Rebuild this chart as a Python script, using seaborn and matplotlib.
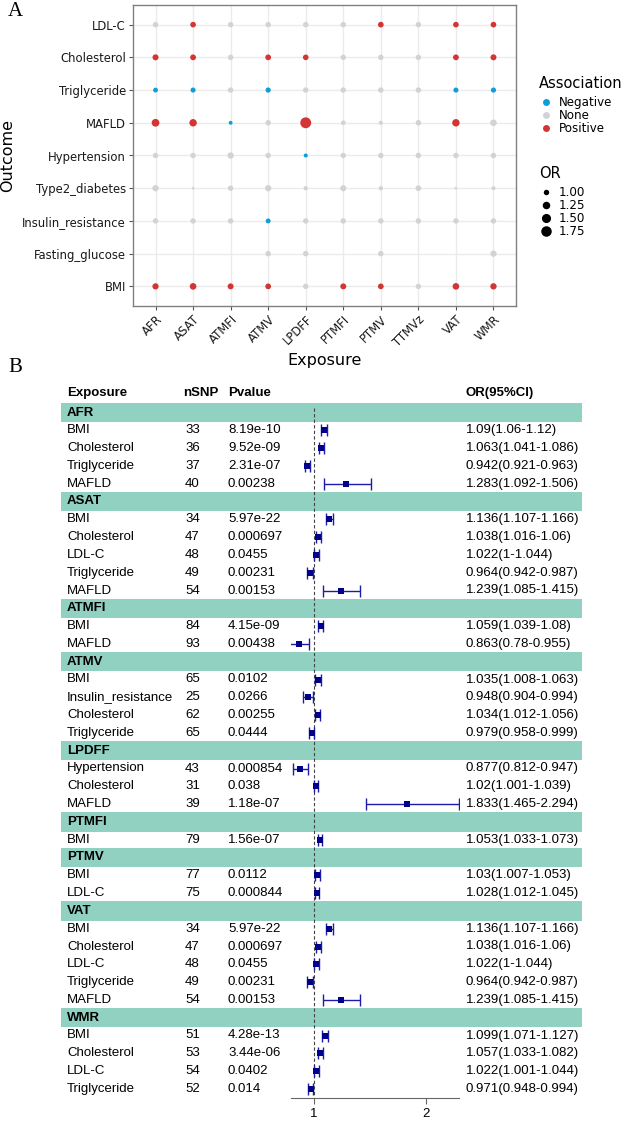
import matplotlib
matplotlib.use("Agg")
import matplotlib.pyplot as plt
import matplotlib.transforms as mtransforms
from matplotlib.lines import Line2D
from matplotlib.patches import Rectangle
import pandas as pd
import seaborn as sns

# ---------------- panel A data ----------------
exposures = ["AFR", "ASAT", "ATMFI", "ATMV", "LPDFF", "PTMFI", "PTMV", "TTMVz", "VAT", "WMR"]
# outcomes listed bottom -> top
outcomes = ["BMI", "Fasting_glucose", "Insulin_resistance", "Type2_diabetes",
            "Hypertension", "MAFLD", "Triglyceride", "Cholesterol", "LDL-C"]

# OR per exposure for each outcome (None = not tested)
or_bmi = [1.09, 1.136, 1.059, 1.035, 1.0, 1.053, 1.03, 1.0, 1.136, 1.099]
or_fasting = [None, None, None, 1.0, 1.0, None, 1.0, None, None, 1.1]
or_insulin = [1.0, 1.0, 1.0, 0.948, 1.0, 1.0, 1.0, 1.0, 1.0, 1.0]
or_t2d = [1.1, 0.79, 1.0, 1.1, 0.9, 1.08, 0.9, 1.03, 0.79, 0.88]
or_hyper = [1.0, 1.0, 1.1, 1.0, 0.877, 1.0, 1.0, 1.0, 1.0, 1.0]
or_mafld = [1.283, 1.239, 0.863, 1.0, 1.833, 0.93, 0.88, 1.0, 1.239, 1.12]
or_tg = [0.942, 0.964, 1.0, 0.979, 1.0, 1.0, 1.0, 1.0, 0.964, 0.971]
or_chol = [1.063, 1.038, 1.0, 1.034, 1.02, 1.0, 1.0, 1.0, 1.038, 1.057]
or_ldl = [1.0, 1.022, 1.0, 1.0, 1.0, 1.0, 1.028, 1.0, 1.022, 1.022]

# association codes: P positive, N negative, - none
as_bmi = "PPPP-PP-PP"
as_fasting = "----------"
as_insulin = "---N------"
as_t2d = "----------"
as_hyper = "----N-----"
as_mafld = "PPN-P---P-"
as_tg = "NN-N----NN"
as_chol = "PP-PP---PP"
as_ldl = "-P----P-PP"

or_rows = [or_bmi, or_fasting, or_insulin, or_t2d, or_hyper, or_mafld, or_tg, or_chol, or_ldl]
as_rows = [as_bmi, as_fasting, as_insulin, as_t2d, as_hyper, as_mafld, as_tg, as_chol, as_ldl]
code_names = {"P": "Positive", "N": "Negative", "-": "None"}

recs = []
for yi, (ors, codes) in enumerate(zip(or_rows, as_rows)):
    for xi, (v, c) in enumerate(zip(ors, codes)):
        if v is None:
            continue
        recs.append({"x": xi, "y": yi, "OR": v, "Association": code_names[c]})
dot_df = pd.DataFrame(recs)

assoc_colors = {"Negative": "#0E9FD8", "None": "#D3D3D3", "Positive": "#D33535"}
size_range = (2.0, 62.0)
size_norm = (0.76, 1.84)

# ---------------- panel B data ----------------
fp_exposure = (["AFR"] * 4 + ["ASAT"] * 5 + ["ATMFI"] * 2 + ["ATMV"] * 4 + ["LPDFF"] * 3
               + ["PTMFI"] * 1 + ["PTMV"] * 2 + ["VAT"] * 5 + ["WMR"] * 4)
fp_outcome = ["BMI", "Cholesterol", "Triglyceride", "MAFLD",
              "BMI", "Cholesterol", "LDL-C", "Triglyceride", "MAFLD",
              "BMI", "MAFLD",
              "BMI", "Insulin_resistance", "Cholesterol", "Triglyceride",
              "Hypertension", "Cholesterol", "MAFLD",
              "BMI",
              "BMI", "LDL-C",
              "BMI", "Cholesterol", "LDL-C", "Triglyceride", "MAFLD",
              "BMI", "Cholesterol", "LDL-C", "Triglyceride"]
fp_nsnp = [33, 36, 37, 40, 34, 47, 48, 49, 54, 84, 93, 65, 25, 62, 65, 43, 31, 39,
           79, 77, 75, 34, 47, 48, 49, 54, 51, 53, 54, 52]
fp_pval = [8.19e-10, 9.52e-09, 2.31e-07, 0.00238,
           5.97e-22, 0.000697, 0.0455, 0.00231, 0.00153,
           4.15e-09, 0.00438,
           0.0102, 0.0266, 0.00255, 0.0444,
           0.000854, 0.038, 1.18e-07,
           1.56e-07,
           0.0112, 0.000844,
           5.97e-22, 0.000697, 0.0455, 0.00231, 0.00153,
           4.28e-13, 3.44e-06, 0.0402, 0.014]
fp_or = [1.09, 1.063, 0.942, 1.283,
         1.136, 1.038, 1.022, 0.964, 1.239,
         1.059, 0.863,
         1.035, 0.948, 1.034, 0.979,
         0.877, 1.02, 1.833,
         1.053,
         1.03, 1.028,
         1.136, 1.038, 1.022, 0.964, 1.239,
         1.099, 1.057, 1.022, 0.971]
fp_lo = [1.06, 1.041, 0.921, 1.092,
         1.107, 1.016, 1.0, 0.942, 1.085,
         1.039, 0.78,
         1.008, 0.904, 1.012, 0.958,
         0.812, 1.001, 1.465,
         1.033,
         1.007, 1.012,
         1.107, 1.016, 1.0, 0.942, 1.085,
         1.071, 1.033, 1.001, 0.948]
fp_hi = [1.12, 1.086, 0.963, 1.506,
         1.166, 1.06, 1.044, 0.987, 1.415,
         1.08, 0.955,
         1.063, 0.994, 1.056, 0.999,
         0.947, 1.039, 2.294,
         1.073,
         1.053, 1.045,
         1.166, 1.06, 1.044, 0.987, 1.415,
         1.127, 1.082, 1.044, 0.994]

# ---------------- figure ----------------
W, H = 625, 1121
fig = plt.figure(figsize=(W / 100, H / 100), dpi=100)


def fx(px):
    return px / W


def fy(py):
    return 1 - py / H


# ----- panel A -----
ax_a = fig.add_axes([fx(133), fy(306), fx(516) - fx(133), fy(5) - fy(306)])
sns.scatterplot(data=dot_df, x="x", y="y", hue="Association", palette=assoc_colors,
                size="OR", sizes=size_range, size_norm=size_norm,
                linewidth=0, legend=False, ax=ax_a, zorder=3)
ax_a.set_xlim(-0.6, len(exposures) - 0.4)
ax_a.set_ylim(-0.6, len(outcomes) - 0.4)
ax_a.set_xticks(range(len(exposures)))
ax_a.set_xticklabels(exposures, rotation=45, ha="right", va="top", rotation_mode="anchor")
ax_a.set_yticks(range(len(outcomes)))
ax_a.set_yticklabels(outcomes)
ax_a.grid(True, color="#EBEBEB", linewidth=1.0)
ax_a.set_axisbelow(True)
for sp in ax_a.spines.values():
    sp.set_color("#808080")
    sp.set_linewidth(1.0)
ax_a.tick_params(length=3, width=0.8, color="#555555", labelsize=8.4,
                 labelcolor="#1a1a1a", pad=2)
ax_a.set_xlabel("Exposure", fontsize=11.5, labelpad=3)
ax_a.set_ylabel("Outcome", fontsize=11.5, labelpad=5)


def marker_pt(v):
    t = (v - size_norm[0]) / (size_norm[1] - size_norm[0])
    return (size_range[0] + t * (size_range[1] - size_range[0])) ** 0.5


legend_kw = dict(loc="upper left", bbox_transform=fig.transFigure, frameon=False,
                 fontsize=8.6, labelspacing=0.0, handletextpad=0.6, handlelength=1.0,
                 borderpad=0, borderaxespad=0)

fig.text(fx(539), fy(83), "Association", fontsize=10.5, va="center")
assoc_handles = [Line2D([], [], marker="o", ls="", markersize=5.0, markeredgewidth=0,
                        markerfacecolor=assoc_colors[k], label=k)
                 for k in ["Negative", "None", "Positive"]]
leg1 = ax_a.legend(handles=assoc_handles, bbox_to_anchor=(fx(540), fy(96)), **legend_kw)
ax_a.add_artist(leg1)

fig.text(fx(539), fy(173), "OR", fontsize=10.5, va="center")
or_levels = [1.00, 1.25, 1.50, 1.75]
or_handles = [Line2D([], [], marker="o", ls="", color="black", markersize=marker_pt(v),
                     markeredgewidth=0, label=f"{v:.2f}")
              for v in or_levels]
ax_a.legend(handles=or_handles, bbox_to_anchor=(fx(540), fy(186)), **legend_kw)

fig.text(fx(8), fy(11), "A", family="Liberation Serif", fontsize=15, va="center")
fig.text(fx(8), fy(368), "B", family="Liberation Serif", fontsize=15, va="center")

# ----- panel B -----
row0_px, row_h = 412.5, 17.8
ax_b = fig.add_axes([fx(291), fy(1098), fx(459) - fx(291), fy(380) - fy(1098)])
ax_b.set_xlim(0.795, 2.295)
ax_b.set_ylim((1098 - row0_px) / row_h, (380 - row0_px) / row_h)
ax_b.patch.set_visible(False)

trans = mtransforms.blended_transform_factory(fig.transFigure, ax_b.transData)
band_color = "#91D1C2"
font_b = "Liberation Sans"
fs_b = 9.5

row_y = []
row = 0
prev = None
for exp_name in fp_exposure:
    if exp_name != prev:
        ax_b.add_patch(Rectangle((fx(61), row - 0.54), fx(582) - fx(61), 1.08,
                                 transform=trans, color=band_color, lw=0,
                                 clip_on=False, zorder=0))
        ax_b.text(fx(67), row, exp_name, transform=trans, fontsize=fs_b, family=font_b,
                  weight="bold", va="center", clip_on=False)
        row += 1
        prev = exp_name
    row_y.append(row)
    row += 1

header_y = -1.1
for px, txt in [(67, "Exposure"), (183, "nSNP"), (228, "Pvalue"), (466, "OR(95%CI)")]:
    ax_b.text(fx(px), header_y, txt, transform=trans, fontsize=fs_b, family=font_b,
              weight="bold", va="center", clip_on=False)

for y, out, n, p, o, lo, hi in zip(row_y, fp_outcome, fp_nsnp, fp_pval, fp_or, fp_lo, fp_hi):
    for px, txt in [(67, out), (185, str(n)), (228, f"{p:g}"),
                    (466, f"{o:g}({lo:g}-{hi:g})")]:
        ax_b.text(fx(px), y, txt, transform=trans, fontsize=fs_b, family=font_b,
                  va="center", clip_on=False)

ax_b.vlines(1, -0.25, row_y[-1] + 0.45, colors="#444444", linestyles=(0, (3, 2)),
            linewidth=0.8, zorder=2)

forest_df = pd.DataFrame({"y": row_y, "OR": fp_or, "lo": fp_lo, "hi": fp_hi})
ax_b.errorbar(forest_df["OR"], forest_df["y"],
              xerr=[forest_df["OR"] - forest_df["lo"], forest_df["hi"] - forest_df["OR"]],
              fmt="none", ecolor="#1C1CA8", elinewidth=1.0, capsize=4.2, capthick=1.0,
              zorder=3)
sns.scatterplot(data=forest_df, x="OR", y="y", marker="s", color="#00008B", s=20,
                linewidth=0, ax=ax_b, zorder=4, legend=False)

for side in ["top", "right", "left"]:
    ax_b.spines[side].set_visible(False)
ax_b.spines["bottom"].set_color("#666666")
ax_b.spines["bottom"].set_linewidth(0.8)
ax_b.set_yticks([])
ax_b.set_xticks([1, 2])
ax_b.set_xticklabels(["1", "2"], family=font_b, fontsize=fs_b)
ax_b.tick_params(axis="x", length=4, width=0.8, color="#666666", pad=3)
ax_b.set_xlabel("")
ax_b.set_ylabel("")

fig.savefig("out.png", dpi=100)
